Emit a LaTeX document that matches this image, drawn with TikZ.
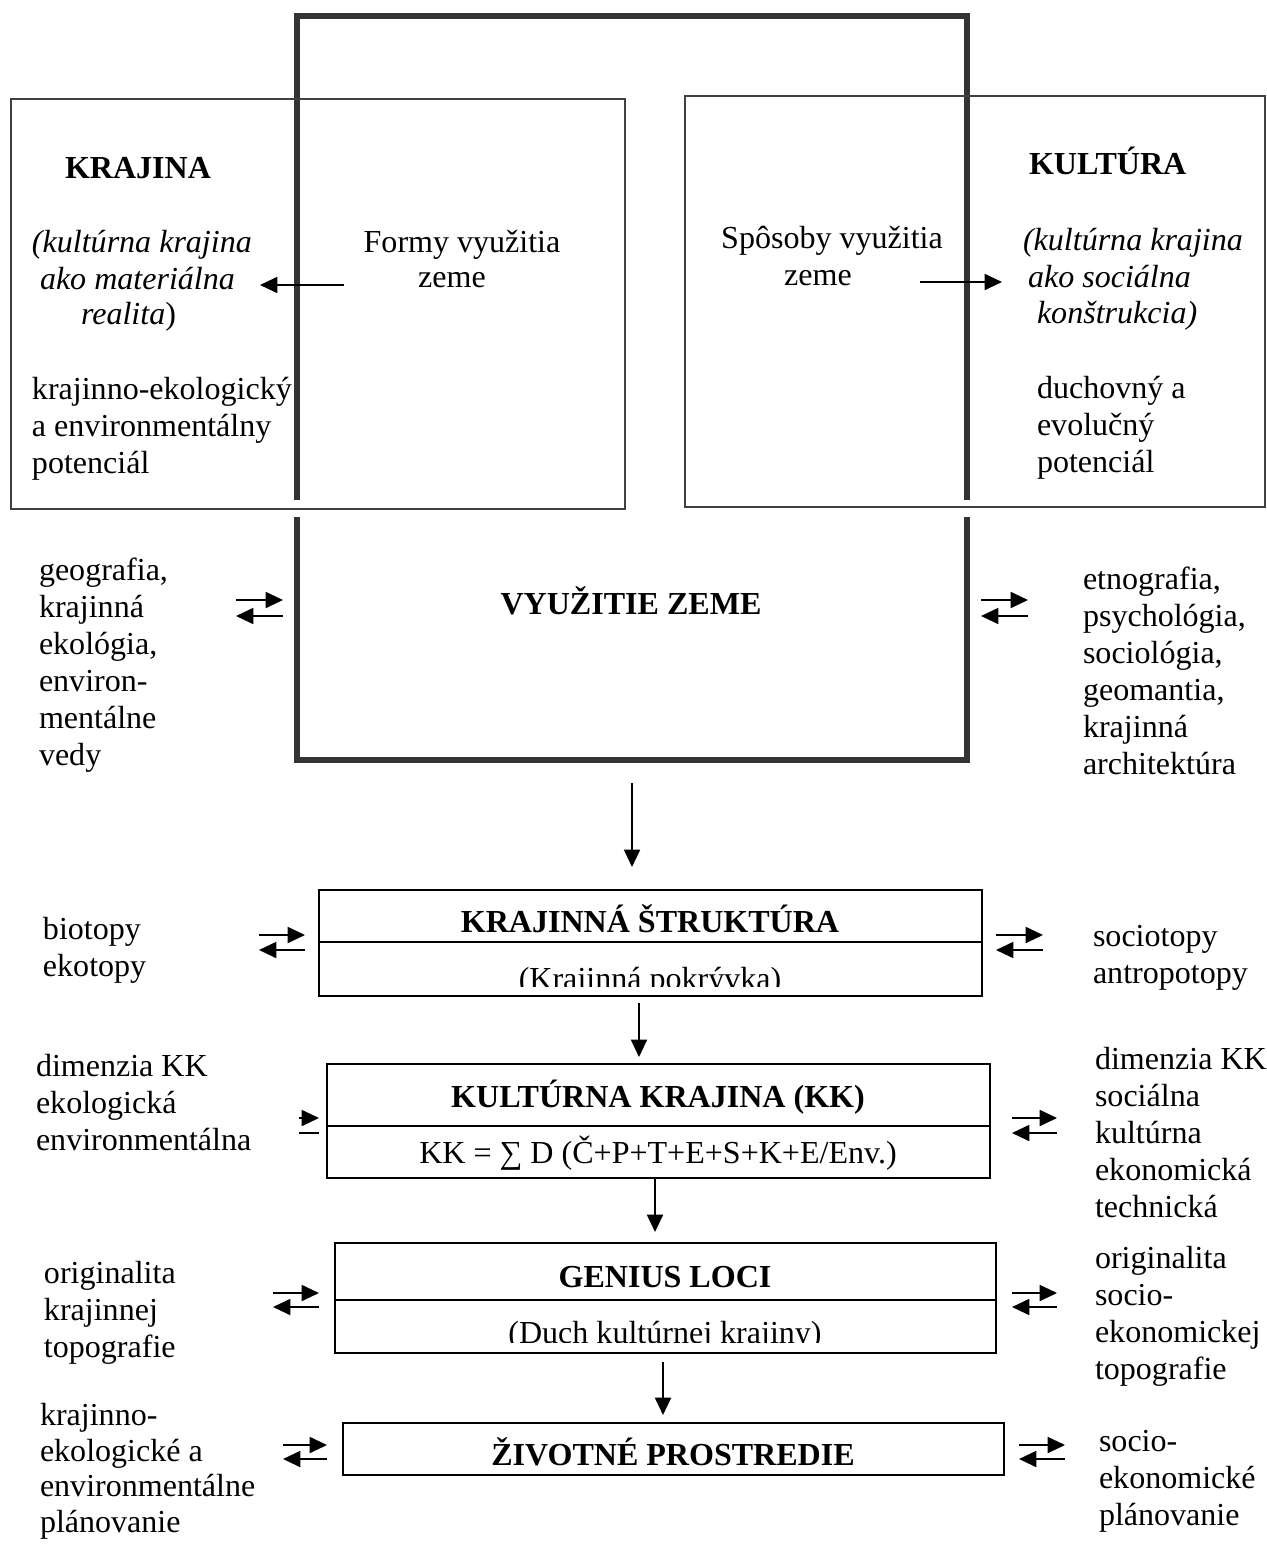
\documentclass[tikz,border=0pt]{standalone}
\usepackage{fontspec}
\setmainfont{Liberation Serif}
\usetikzlibrary{arrows.meta,fit}
\newcommand\pairarr[5]{%
  \coordinate (#1a) at (#2,#4); \coordinate (#1b) at (#3,#4);
  \coordinate (#1c) at (#3,#5); \coordinate (#1d) at (#2,#5);
  \draw[arr] (#1a) -- (#1b); \draw[arr] (#1c) -- (#1d);}
\newcommand\mybox[6]{%
  \coordinate (#1-nw) at (#2,#3); \coordinate (#1-se) at (#4,#5);
  \node[#6, fit=(#1-nw)(#1-se)] (#1) {};}
\begin{document}
\begin{tikzpicture}[x=0.3745pt,y=-0.3745pt]
\tikzset{
  fnt/.style={font=\fontsize{12}{13.86}\selectfont, inner sep=0pt, outer sep=0pt},
  blk/.style={fnt, anchor=north west, align=left},
  lnw/.style={fnt, anchor=base west},
  lnc/.style={fnt, anchor=base},
  ttl/.style={fnt, anchor=base, font=\fontsize{12}{13.86}\selectfont\bfseries},
  ttlw/.style={fnt, anchor=base west, font=\fontsize{12}{13.86}\selectfont\bfseries},
  thickbox/.style={draw=black!80, line width=1.9pt, inner sep=0pt, outer sep=0pt},
  thinbox/.style={draw=black!75, line width=0.75pt, inner sep=0pt, outer sep=0pt},
  flowbox/.style={draw=black, line width=0.8pt, inner sep=0pt, outer sep=0pt},
  divline/.style={draw=black, line width=0.8pt},
  arr/.style={-{Triangle[length=6.5pt,width=6pt]}, line width=0.7pt},
  plainline/.style={line width=0.7pt},
}
\useasboundingbox (0,0) rectangle (1267,1544);

% ---------- top part ----------
\mybox{use}{297}{16}{967}{760}{thickbox}
\fill[white] (290,500) rectangle (304,517);
\fill[white] (960,500) rectangle (974,517);
\mybox{kraj}{11}{99}{625}{509}{thinbox}
\mybox{kult}{685}{96}{1265}{507}{thinbox}

\node[ttlw] (t1) at (65,179) {KRAJINA};
\node[lnw] (t2) at (32,253) {\itshape (kultúrna krajina};
\node[lnw] (t3) at (40,289) {\itshape ako materiálna};
\node[lnw] (t4) at (81,325) {\textit{realita})};
\node[blk] (t5) at (32,374) {\strut krajinno-ekologický\\a environmentálny\\potenciál};

\node[lnc] (t6) at (462,253) {Formy využitia};
\node[lnc] (t7) at (452,288) {zeme};
\node[lnc] (t8) at (832,249) {Spôsoby využitia};
\node[lnc] (t9) at (818,286) {zeme};

\node[ttlw] (t10) at (1029,175) {KULTÚRA};
\node[lnw] (t11) at (1023,251) {\itshape (kultúrna krajina};
\node[lnw] (t12) at (1028,288) {\itshape ako sociálna};
\node[lnw] (t13) at (1037,323) {\itshape konštrukcia)};
\node[blk] (t14) at (1037,373) {\strut duchovný a\\evolučný\\potenciál};

\coordinate (fa) at (344,285); \coordinate (fb) at (260,285);
\draw[arr] (fa) -- (fb);
\coordinate (sa) at (920,282); \coordinate (sb) at (1002,282);
\draw[arr] (sa) -- (sb);

\node[ttl] (t15) at (631,614) {VYUŽITIE ZEME};
\node[blk] (t16) at (39,555) {\strut geografia,\\krajinná\\ekológia,\\environ-\\mentálne\\vedy};
\node[blk] (t17) at (1083,564) {\strut etnografia,\\psychológia,\\sociológia,\\geomantia,\\krajinná\\architektúra};
\pairarr{p1}{236}{283}{600}{616}
\pairarr{p2}{981}{1028}{600}{616}

\coordinate (d1a) at (632,783); \coordinate (d1b) at (632,867);
\draw[arr] (d1a) -- (d1b);

% ---------- KRAJINNA STRUKTURA ----------
\mybox{ks}{319}{890}{982}{996}{flowbox}
\draw[divline] (ks.west |- 0,942) -- (ks.east |- 0,942);
\node[ttl] (t18) at (650,932) {KRAJINNÁ ŠTRUKTÚRA};
\begin{scope}
  \clip (321,944) rectangle (980,986);
  \node[lnc] (t19) at (650,989) {(Krajinná pokrývka)};
\end{scope}
\node[blk] (t20) at (43,914) {\strut biotopy\\ekotopy};
\node[blk] (t21) at (1093,921) {\strut sociotopy\\antropotopy};
\pairarr{p3}{259}{305}{935}{950}
\pairarr{p4}{996}{1043}{935}{950}

\coordinate (d2a) at (639,1003); \coordinate (d2b) at (639,1057);
\draw[arr] (d2a) -- (d2b);

% ---------- KULTURNA KRAJINA ----------
\mybox{kk}{327}{1064}{990}{1178}{flowbox}
\draw[divline] (kk.west |- 0,1126) -- (kk.east |- 0,1126);
\node[ttl] (t22) at (658,1107) {KULTÚRNA KRAJINA (KK)};
\node[lnc] (t23) at (658,1163) {KK = ∑ D (Č+P+T+E+S+K+E/Env.)};
\node[blk] (t24) at (36,1051) {\strut dimenzia KK\\ekologická\\environmentálna};
\node[blk] (t25) at (1095,1044) {\strut dimenzia KK\\sociálna\\kultúrna\\ekonomická\\technická};
\coordinate (s1a) at (299,1118); \coordinate (s1b) at (319,1118);
\draw[arr] (s1a) -- (s1b);
\coordinate (s2a) at (299,1133); \coordinate (s2b) at (319,1133);
\draw[plainline] (s2a) -- (s2b);
\pairarr{p5}{1012}{1057}{1118}{1133}

\coordinate (d3a) at (655,1178); \coordinate (d3b) at (655,1232);
\draw[arr] (d3a) -- (d3b);

% ---------- GENIUS LOCI ----------
\mybox{gl}{335}{1243}{996}{1353}{flowbox}
\draw[divline] (gl.west |- 0,1300) -- (gl.east |- 0,1300);
\node[ttl] (t26) at (665,1287) {GENIUS LOCI};
\begin{scope}
  \clip (337,1302) rectangle (994,1342);
  \node[lnc] (t27) at (665,1343) {(Duch kultúrnej krajiny)};
\end{scope}
\node[blk] (t28) at (44,1258) {\strut originalita\\krajinnej\\topografie};
\node[blk] (t29) at (1095,1243) {\strut originalita\\socio-\\ekonomickej\\topografie};
\pairarr{p6}{273}{319}{1293}{1307}
\pairarr{p7}{1012}{1057}{1293}{1307}

\coordinate (d4a) at (663,1362); \coordinate (d4b) at (663,1415);
\draw[arr] (d4a) -- (d4b);

% ---------- ZIVOTNE PROSTREDIE ----------
\mybox{zp}{343}{1423}{1004}{1475}{flowbox}
\node[ttl] (t30) at (673,1465) {ŽIVOTNÉ PROSTREDIE};
\node[blk, font=\fontsize{12}{13.45}\selectfont] (t31) at (40,1400) {\strut krajinno-\\ekologické a\\environmentálne\\plánovanie};
\node[blk] (t32) at (1099,1426) {\strut socio-\\ekonomické\\plánovanie};
\pairarr{p8}{283}{327}{1445}{1459}
\pairarr{p9}{1019}{1065}{1445}{1459}
\end{tikzpicture}
\end{document}
